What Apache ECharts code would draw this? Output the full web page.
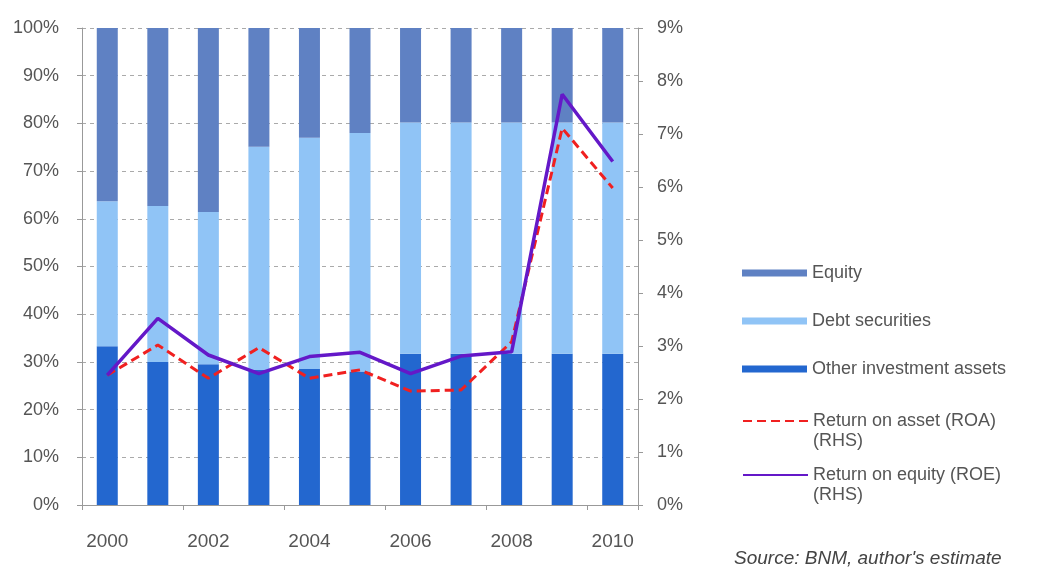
<!DOCTYPE html>
<html>
<head>
<meta charset="utf-8">
<script src="https://cdn.jsdelivr.net/npm/echarts@6/dist/echarts.min.js"></script>
<style>
html,body{margin:0;padding:0;background:#fff;}
#chart{width:1038px;height:568px;}
</style>
</head>
<body>
<div id="chart"></div>
<script>
const years = ['2000','2001','2002','2003','2004','2005','2006','2007','2008','2009','2010'];
const otherAssets = [33.3, 30.0, 29.5, 28.3, 28.5, 28.0, 31.7, 31.7, 31.7, 31.7, 31.7];
const debtSecurities = [30.4, 32.7, 31.9, 46.8, 48.5, 50.0, 48.5, 48.5, 48.5, 48.5, 48.5];
const equity = [36.3, 37.3, 38.6, 24.9, 23.0, 22.0, 19.8, 19.8, 19.8, 19.8, 19.8];
const roa = [2.45, 3.02, 2.39, 2.97, 2.39, 2.55, 2.15, 2.17, 3.08, 7.11, 5.98];
const roe = [2.45, 3.52, 2.83, 2.48, 2.80, 2.88, 2.48, 2.81, 2.89, 7.75, 6.48];
const leftTicks = {min: 0, max: 100, interval: 10};
const rightTicks = {min: 0, max: 9, interval: 1};

const names = ['Equity', 'Debt securities', 'Other investment assets',
  'Return on asset (ROA)', 'Return on equity (ROE)'];
const rhsNote = '(RHS)';

const chart = echarts.init(document.getElementById('chart'));
const font = 'Liberation Sans, Arial, sans-serif';
const textColor = '#555';
const legendTops = [258, 306, 354, 386, 440];
const legends = names.map((n, i) => {
  const l = {
    left: 737, itemWidth: 65, itemHeight: 7, selectedMode: false,
    top: legendTops[i], data: [n],
    textStyle: {fontFamily: font, fontSize: 18, color: textColor, lineHeight: 20}
  };
  if (i >= 3) {
    l.itemStyle = {opacity: 0};
    l.lineStyle = {width: 2};
    l.formatter = name => '\u200b\n' + name + '\n' + rhsNote;
  } else {
    l.icon = 'rect';
  }
  return l;
});

chart.setOption({
  animation: false,
  grid: {left: 82, right: 400, top: 28, bottom: 63},
  legend: legends,
  xAxis: {
    type: 'category', data: years, boundaryGap: true,
    axisLine: {lineStyle: {color: '#999'}},
    axisTick: {show: true, length: 5, lineStyle: {color: '#999'}},
    axisLabel: {interval: 1, margin: 27, fontFamily: font, fontSize: 19, color: textColor}
  },
  yAxis: [
    {
      type: 'value', min: leftTicks.min, max: leftTicks.max, interval: leftTicks.interval,
      axisLine: {show: true, lineStyle: {color: '#999'}},
      axisTick: {show: true, length: 5, lineStyle: {color: '#999'}},
      axisLabel: {formatter: '{value}%', margin: 23, fontFamily: font, fontSize: 18, color: textColor},
      splitLine: {lineStyle: {color: '#aaa', type: [4, 4]}}
    },
    {
      type: 'value', min: rightTicks.min, max: rightTicks.max, interval: rightTicks.interval,
      position: 'right',
      axisLine: {show: true, lineStyle: {color: '#999'}},
      axisTick: {show: true, length: 5, lineStyle: {color: '#999'}},
      axisLabel: {formatter: '{value}%', margin: 19, fontFamily: font, fontSize: 18, color: textColor},
      splitLine: {show: false}
    }
  ],
  series: [
    {name: names[2], type: 'bar', stack: 'a', data: otherAssets, barWidth: 21,
      itemStyle: {color: '#2367cf'}},
    {name: names[1], type: 'bar', stack: 'a', data: debtSecurities, barWidth: 21,
      itemStyle: {color: '#90c4f6'}},
    {name: names[0], type: 'bar', stack: 'a', data: equity, barWidth: 21,
      itemStyle: {color: '#5f81c3'}},
    {name: names[3], type: 'line', yAxisIndex: 1, data: roa, symbol: 'none',
      lineStyle: {color: '#f02020', width: 3, type: [9, 5]}, itemStyle: {color: '#f02020'}},
    {name: names[4], type: 'line', yAxisIndex: 1, data: roe, symbol: 'none',
      lineStyle: {color: '#6418c8', width: 3.5}, itemStyle: {color: '#6418c8'}}
  ],
  graphic: [{
    type: 'text', left: 734, top: 549,
    style: {text: "Source: BNM, author's estimate", fontFamily: font, fontSize: 19,
      fontStyle: 'italic', fill: '#444'}
  }]
});
</script>
</body>
</html>
